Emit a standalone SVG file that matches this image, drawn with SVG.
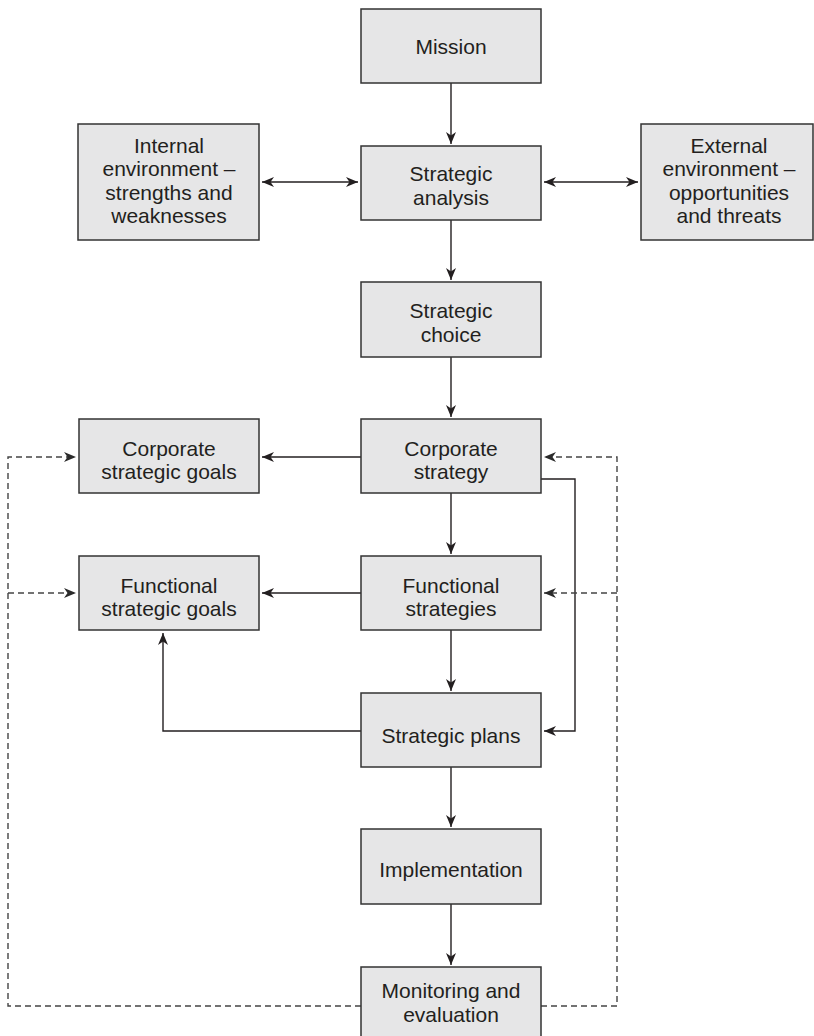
<svg xmlns="http://www.w3.org/2000/svg" width="814" height="1036" viewBox="0 0 814 1036">
<defs>
<marker id="ah" markerUnits="userSpaceOnUse" markerWidth="13" markerHeight="11" refX="12" refY="5" orient="auto-start-reverse" viewBox="0 0 13 10">
<path d="M0,0 L12,5 L0,10 L3.5,5 z" fill="#231f20"/>
</marker>
<marker id="ahd" markerUnits="userSpaceOnUse" markerWidth="13" markerHeight="11" refX="12" refY="5" orient="auto-start-reverse" viewBox="0 0 13 10">
<path d="M0,0 L12,5 L0,10 L3.5,5 z" fill="#2b2b2b"/>
</marker>
</defs>
<style>
.box{fill:#e6e6e7;stroke:#333;stroke-width:1.5}
text{font-family:"Liberation Sans",Arial,Helvetica,sans-serif;font-size:21px;fill:#231f20;text-anchor:middle}
.ln{fill:none;stroke:#231f20;stroke-width:1.4}
.arr{marker-end:url(#ah)}
.both{marker-start:url(#ah);marker-end:url(#ah)}
.dash{fill:none;stroke:#444;stroke-width:1.4;stroke-dasharray:6 4}
.darr{marker-end:url(#ahd)}
</style>
<rect width="814" height="1036" fill="#fff"/>
<g id="connectors">
<line class="ln arr" x1="451" y1="83" x2="451" y2="144"/>
<line class="ln arr" x1="451" y1="220" x2="451" y2="280"/>
<line class="ln arr" x1="451" y1="357" x2="451" y2="417"/>
<line class="ln arr" x1="451" y1="493" x2="451" y2="554"/>
<line class="ln arr" x1="451" y1="630" x2="451" y2="691"/>
<line class="ln arr" x1="451" y1="767" x2="451" y2="827"/>
<line class="ln arr" x1="451" y1="904" x2="451" y2="965"/>
<line class="ln both" x1="262" y1="182" x2="358" y2="182"/>
<line class="ln both" x1="544" y1="182" x2="638" y2="182"/>
<line class="ln arr" x1="361" y1="457" x2="262" y2="457"/>
<line class="ln arr" x1="361" y1="593" x2="262" y2="593"/>
<polyline class="ln arr" points="541,479 575,479 575,731 544,731"/>
<polyline class="ln arr" points="361,731 163,731 163,633"/>
<polyline class="dash darr" points="361,1006 8,1006 8,457 76,457"/>
<line class="dash darr" x1="8" y1="593" x2="76" y2="593"/>
<polyline class="dash darr" points="541,1006 617,1006 617,457 544,457"/>
<line class="dash darr" x1="617" y1="593" x2="544" y2="593"/>
</g>
<g id="mission"><rect class="box" x="361" y="9" width="180" height="74"/><text x="451" y="53.5">Mission</text></g>
<g id="internal"><rect class="box" x="78" y="124" width="181" height="116"/><text x="169" y="152.5">Internal</text><text x="169" y="176">environment –</text><text x="169" y="199.5">strengths and</text><text x="169" y="223">weaknesses</text></g>
<g id="analysis"><rect class="box" x="361" y="146" width="180" height="74"/><text x="451" y="181">Strategic</text><text x="451" y="204.5">analysis</text></g>
<g id="external"><rect class="box" x="641" y="124" width="172" height="116"/><text x="729" y="152.5">External</text><text x="729" y="176">environment –</text><text x="729" y="199.5">opportunities</text><text x="729" y="223">and threats</text></g>
<g id="choice"><rect class="box" x="361" y="282" width="180" height="75"/><text x="451" y="318">Strategic</text><text x="451" y="341.5">choice</text></g>
<g id="corp-goals"><rect class="box" x="79" y="419" width="180" height="74"/><text x="169" y="455.5">Corporate</text><text x="169" y="479">strategic goals</text></g>
<g id="corp-strategy"><rect class="box" x="361" y="419" width="180" height="74"/><text x="451" y="455.5">Corporate</text><text x="451" y="479">strategy</text></g>
<g id="func-goals"><rect class="box" x="79" y="556" width="180" height="74"/><text x="169" y="592.5">Functional</text><text x="169" y="616">strategic goals</text></g>
<g id="func-strategies"><rect class="box" x="361" y="556" width="180" height="74"/><text x="451" y="592.5">Functional</text><text x="451" y="616">strategies</text></g>
<g id="plans"><rect class="box" x="361" y="693" width="180" height="74"/><text x="451" y="742.5">Strategic plans</text></g>
<g id="implementation"><rect class="box" x="361" y="829" width="180" height="75"/><text x="451" y="876.5">Implementation</text></g>
<g id="monitoring"><rect class="box" x="361" y="967" width="180" height="74"/><text x="451" y="998">Monitoring and</text><text x="451" y="1021.5">evaluation</text></g>
</svg>
